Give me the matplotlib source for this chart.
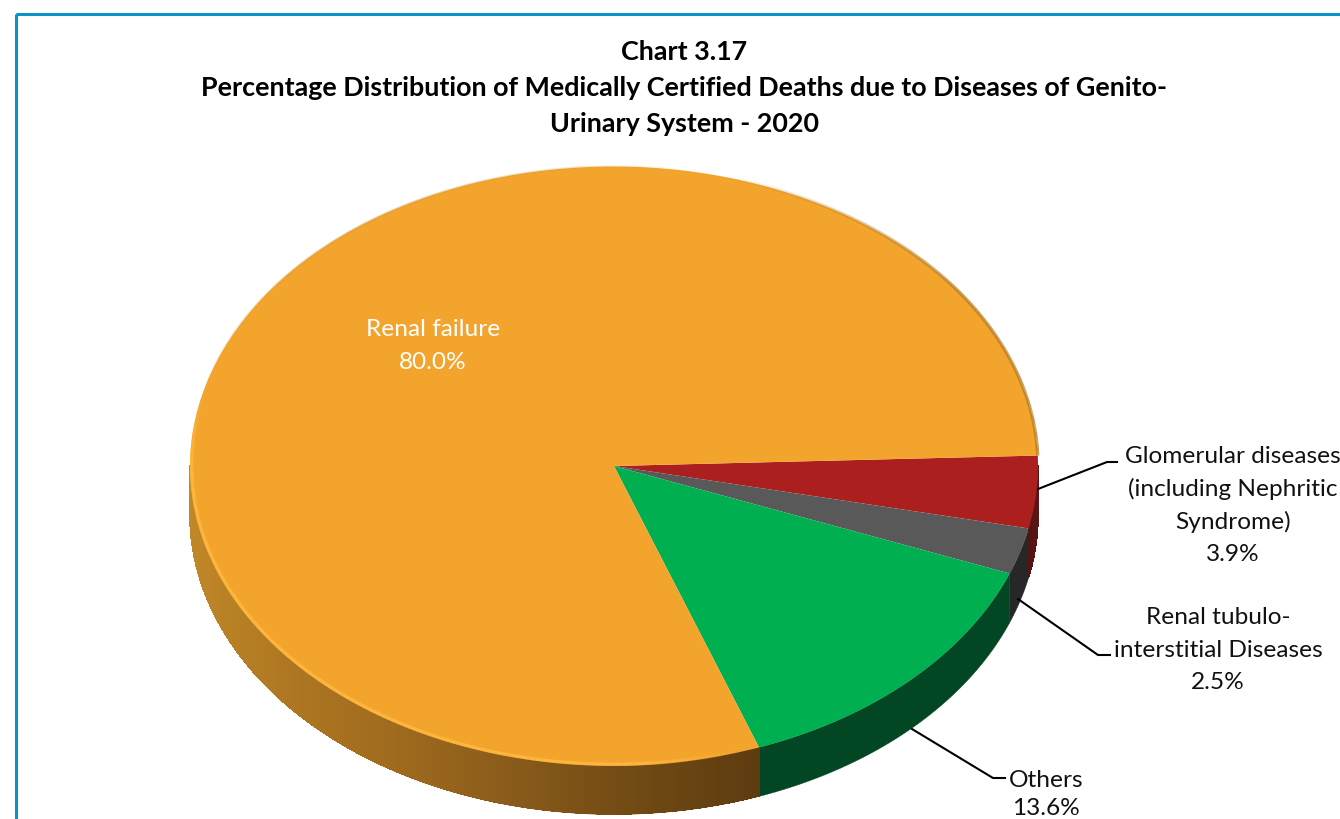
import numpy as np
import matplotlib
matplotlib.use("Agg")
import matplotlib.pyplot as plt
from matplotlib.collections import PolyCollection, LineCollection
from matplotlib.patches import Rectangle
from matplotlib.transforms import Affine2D

# ---- data -------------------------------------------------------------
categories = ["Glomerular diseases", "Renal tubulo-interstitial Diseases", "Others", "Renal failure"]
values = [3.9, 2.5, 13.6, 80.0]
colors = ["#AB1F1E", "#595959", "#00B050", "#F3A42D"]
title_lines = ["Chart 3.17",
               "Percentage Distribution of Medically Certified Deaths due to Diseases of Genito-",
               "Urinary System - 2020"]
label_glom = ["Glomerular diseases", "(including Nephritic", "Syndrome)", "3.9%"]
label_tub = ["Renal tubulo-", "interstitial Diseases", "2.5%"]
label_oth = ["Others", "13.6%"]
label_ren = ["Renal failure", "80.0%"]

plt.rcParams["font.family"] = ["Lato", "DejaVu Sans"]
W, H = 1340, 820
fig = plt.figure(figsize=(W / 100, H / 100), dpi=100, facecolor="white")
ax = fig.add_axes([0, 0, 1, 1])

cx, cy, rx, ry, depth = 614.0, 467.0, 424.0, 299.5, 49.0
start = 2.0

wedges, _ = ax.pie(values, colors=colors, startangle=start, counterclock=False, radius=1.0)
tr = Affine2D().scale(rx, -ry).translate(cx, cy) + ax.transData
for w in wedges:
    w.set_transform(tr)
    w.set_linewidth(0)
    w.set_zorder(4)

ax.set_aspect("auto")
ax.set_xlim(0, W)
ax.set_ylim(H, 0)
ax.axis("off")


def px(t):
    r = np.radians(t)
    return cx + rx * np.cos(r), cy - ry * np.sin(r)


def mix(x, xs, cols):
    return tuple(np.interp(x, xs, [c[i] for c in cols]) / 255 for i in range(3))


# side wall per slice: one smooth base polygon, with shading strips where it varies
wall_shades = {
    0: ([1000, 1040], [(58, 14, 14), (92, 22, 22)]),
    1: ([1000, 1040], [(38, 38, 38), (40, 40, 40)]),
    2: ([760, 1020], [(2, 70, 35), (2, 70, 35)]),
    3: ([190, 280, 400, 520, 640, 760], [(192, 136, 40), (176, 120, 34), (158, 106, 30), (136, 90, 26), (112, 73, 20), (94, 60, 16)]),
}
edges = start - np.concatenate([[0], np.cumsum(values)]) * 3.6
for i in range(len(values)):
    hi, lo = min(edges[i], 0.0), max(edges[i + 1], -180.0)
    if hi <= lo:
        continue
    ts = np.linspace(lo, hi, int((hi - lo) * 2) + 2)
    xs_, ys_ = px(ts)
    base = np.column_stack([np.r_[xs_, xs_[::-1]], np.r_[ys_, ys_[::-1] + depth]])
    xs_w, cols_w = wall_shades[i]
    ax.fill(base[:, 0], base[:, 1], color=mix(xs_.mean(), xs_w, cols_w), lw=0.3, zorder=2)
    if i in (0, 3):
        polys, pcols = [], []
        for a, b in zip(ts[:-1], ts[1:]):
            xa, ya = px(a)
            xb, yb = px(b)
            polys.append([(xa, ya), (xb, yb), (xb, yb + depth - 0.6), (xa, ya + depth - 0.6)])
            pcols.append(mix((xa + xb) / 2, xs_w, cols_w))
        ax.add_collection(PolyCollection(polys, facecolors=pcols, edgecolors=pcols, linewidths=0.5,
                                         antialiaseds=False, zorder=3))

# bevel on the orange rim: bright along the lower left, darker on the upper right
ts = np.linspace(edges[4], edges[3], 1400)
segs, scol, swid = [], [], []
for a, b in zip(ts[:-1], ts[1:]):
    m = ((a + b) / 2) % 360
    xa, ya = px(a)
    xb, yb = px(b)
    if 165 <= m <= 288:
        f = min(1.0, min(m - 165, 288 - m) / 15)
        k = 0.996
        segs.append([(cx + (xa - cx) * k, cy + (ya - cy) * k), (cx + (xb - cx) * k, cy + (yb - cy) * k)])
        scol.append((1.0, 0.72, 0.24, f))
        swid.append(2.4)
    elif m <= 75:
        f = min(1.0, (75 - m) / 40)
        segs.append([(xa, ya), (xb, yb)])
        scol.append((0.70, 0.47, 0.12, 0.78 * f))
        swid.append(2.4)
    elif 75 < m < 165:
        f = max(0.0, min(1.0, (m - 75) / 50, (165 - m) / 25))
        segs.append([(xa, ya), (xb, yb)])
        scol.append((0.86, 0.60, 0.17, 0.6 * f))
        swid.append(1.6)
ax.add_collection(LineCollection(segs, colors=scol, linewidths=swid, zorder=5, capstyle="butt"))

# leader lines
for xs, ys in [([1038, 1107, 1117], [490, 463, 463]),
               ([1018, 1098, 1110], [600, 656, 656]),
               ([912, 993, 1005], [730, 779, 779])]:
    ax.plot(xs, ys, color="black", lw=1.5, zorder=6, solid_joinstyle="miter")


def block(lines, x, ys, color="#111111", size=17.6, weight="normal"):
    for s, y in zip(lines, ys):
        ax.text(x, y + 2, s, ha="center", va="center", fontsize=size, color=color,
                fontweight=weight, zorder=7)


block(title_lines, 684, [50, 86, 122], color="black", size=19.4, weight="bold")
block(label_glom, 1233, [455, 487, 520, 553])
block(label_tub, 1218, [616, 649, 681])
block(label_oth, 1046, [779, 807])
block(label_ren, 433, [328, 361], color="white")

# outer frame running off the right and bottom
ax.add_patch(Rectangle((15.5, 15), W + 60, H + 60, fill=False, edgecolor="#0A93C4", lw=2.2, zorder=1))

fig.savefig("out.png", dpi=100, facecolor="white")
